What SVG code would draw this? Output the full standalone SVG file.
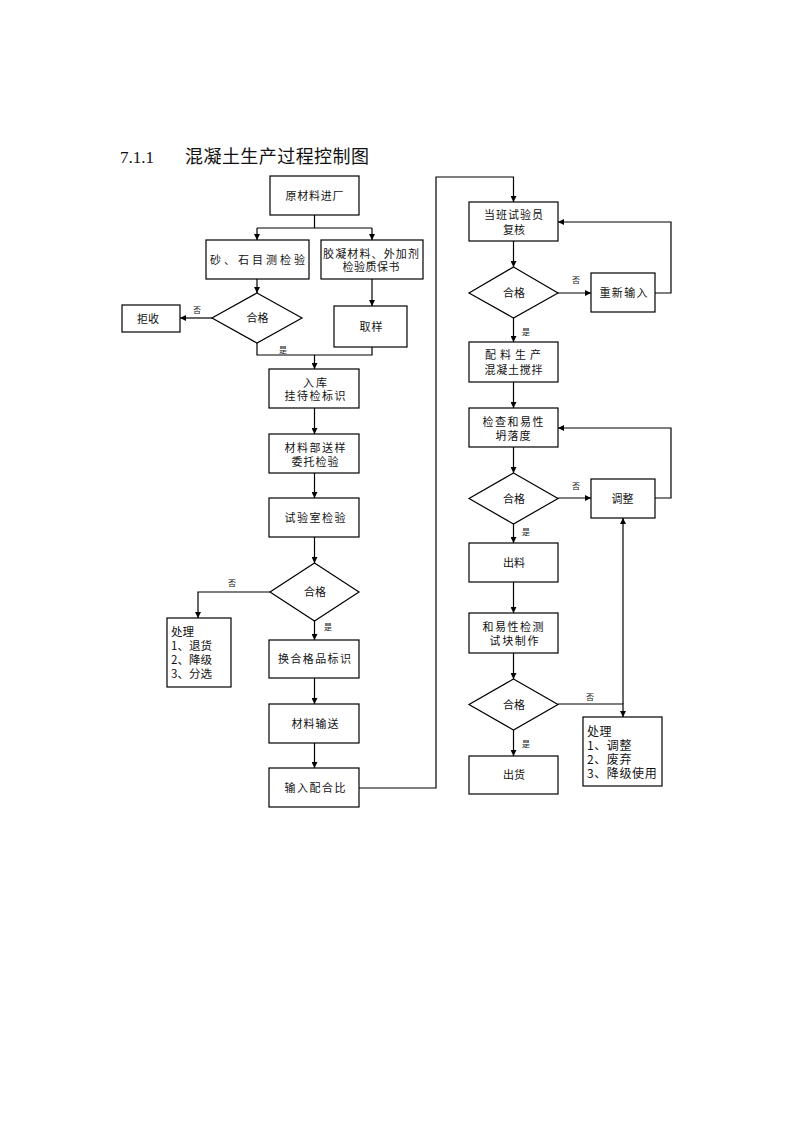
<svg xmlns="http://www.w3.org/2000/svg" width="793" height="1122" viewBox="0 0 793 1122">
<style>
.b{fill:#fff;stroke:#000;stroke-width:1.2}
.t{font-family:"Noto Sans CJK SC","Liberation Sans",sans-serif;font-size:11px;fill:#111;text-anchor:middle}
.l{font-family:"Noto Sans CJK SC","Liberation Sans",sans-serif;font-size:11.5px;fill:#111}
.s{font-family:"Noto Sans CJK SC","Liberation Sans",sans-serif;font-size:8px;fill:#111;text-anchor:middle}
.c{fill:none;stroke:#000;stroke-width:1.2}
</style>
<defs>
<marker id="a" markerUnits="userSpaceOnUse" markerWidth="6" markerHeight="6" refX="6" refY="3" orient="auto">
<path d="M0,0 L6,3 L0,6 z" fill="#000"/>
</marker>
</defs>
<rect width="793" height="1122" fill="#fff"/>
<g id="title">
<text x="120" y="163" font-family="Liberation Serif,serif" font-size="17" fill="#111">7.1.1</text>
<text x="185" y="163" font-family="Noto Sans CJK SC,sans-serif" font-size="18" fill="#111" textLength="184" lengthAdjust="spacing">混凝土生产过程控制图</text>
</g>
<g id="connectors">
<path class="c" d="M314.5,215 V228 M257,228 H372"/>
<path class="c" d="M257,228 V240" marker-end="url(#a)"/>
<path class="c" d="M372,228 V240" marker-end="url(#a)"/>
<path class="c" d="M257,279 V293" marker-end="url(#a)"/>
<path class="c" d="M212,318 H180" marker-end="url(#a)"/>
<path class="c" d="M372,279 V306" marker-end="url(#a)"/>
<path class="c" d="M257,343 V355 H372 V347"/>
<path class="c" d="M314.5,355 V369" marker-end="url(#a)"/>
<path class="c" d="M314.5,408 V434" marker-end="url(#a)"/>
<path class="c" d="M314.5,473 V498" marker-end="url(#a)"/>
<path class="c" d="M314.5,537 V563" marker-end="url(#a)"/>
<path class="c" d="M270,592 H198 V618" marker-end="url(#a)"/>
<path class="c" d="M314.5,621 V640" marker-end="url(#a)"/>
<path class="c" d="M314.5,678 V704" marker-end="url(#a)"/>
<path class="c" d="M314.5,743 V768" marker-end="url(#a)"/>
<path class="c" d="M359,788 H436 V177 H513.5 V202" marker-end="url(#a)"/>
<path class="c" d="M513.5,241 V267" marker-end="url(#a)"/>
<path class="c" d="M558,293 H591" marker-end="url(#a)"/>
<path class="c" d="M655,293 H671 V222 H558" marker-end="url(#a)"/>
<path class="c" d="M513.5,318 V342" marker-end="url(#a)"/>
<path class="c" d="M513.5,382 V408" marker-end="url(#a)"/>
<path class="c" d="M513.5,447 V473" marker-end="url(#a)"/>
<path class="c" d="M558,498 H591" marker-end="url(#a)"/>
<path class="c" d="M655,498 H671 V428 H558" marker-end="url(#a)"/>
<path class="c" d="M513.5,524 V543" marker-end="url(#a)"/>
<path class="c" d="M513.5,582 V613" marker-end="url(#a)"/>
<path class="c" d="M513.5,653 V679" marker-end="url(#a)"/>
<path class="c" d="M558,704 H623 V717" marker-end="url(#a)"/>
<path class="c" d="M623,704 V518" marker-end="url(#a)"/>
<path class="c" d="M513.5,730 V756" marker-end="url(#a)"/>
<text class="s" x="197" y="313">否</text>
<text class="s" x="283" y="353">是</text>
<text class="s" x="232" y="586">否</text>
<text class="s" x="328" y="630">是</text>
<text class="s" x="576" y="283">否</text>
<text class="s" x="526" y="335">是</text>
<text class="s" x="576" y="489">否</text>
<text class="s" x="526" y="535">是</text>
<text class="s" x="590" y="700">否</text>
<text class="s" x="526" y="747">是</text>
</g>
<g id="n1"><rect class="b" x="270" y="176" width="89" height="39"/><text class="t" x="314.5" y="199.5" textLength="58">原材料进厂</text></g>
<g id="n2"><rect class="b" x="206" y="240" width="103" height="39"/><text class="t" x="257.5" y="263.5" textLength="95">砂、石目测检验</text></g>
<g id="n3"><rect class="b" x="321" y="240" width="102" height="39"/><text class="t" x="371" y="257.5" textLength="96">胶凝材料、外加剂</text><text class="t" x="371" y="271" textLength="57">检验质保书</text></g>
<g id="n4"><polygon class="b" points="257,293 302,318 257,343 212,318"/><text class="t" x="257.5" y="322" textLength="22">合格</text></g>
<g id="n5"><rect class="b" x="122" y="305" width="58" height="27"/><text class="t" x="148" y="322.5" textLength="22">拒收</text></g>
<g id="n6"><rect class="b" x="334" y="306" width="73" height="41"/><text class="t" x="371" y="330.5" textLength="23">取样</text></g>
<g id="n7"><rect class="b" x="269" y="369" width="90" height="39"/><text class="t" x="315" y="387" textLength="24">入库</text><text class="t" x="315" y="400" textLength="61">挂待检标识</text></g>
<g id="n8"><rect class="b" x="269" y="434" width="90" height="39"/><text class="t" x="315" y="452" textLength="61">材料部送样</text><text class="t" x="315" y="465.5" textLength="47">委托检验</text></g>
<g id="n9"><rect class="b" x="269" y="498" width="90" height="39"/><text class="t" x="315" y="521.5" textLength="61">试验室检验</text></g>
<g id="n10"><polygon class="b" points="314.5,563 359,592 314.5,621 270,592"/><text class="t" x="315" y="596" textLength="22">合格</text></g>
<g id="n11"><rect class="b" x="167" y="618" width="64" height="69"/><text class="l" x="171" y="636">处理</text><text class="l" x="171" y="650">1、退货</text><text class="l" x="171" y="664">2、降级</text><text class="l" x="171" y="678">3、分选</text></g>
<g id="n12"><rect class="b" x="269" y="640" width="90" height="38"/><text class="t" x="314.5" y="663" textLength="73">换合格品标识</text></g>
<g id="n13"><rect class="b" x="269" y="704" width="90" height="39"/><text class="t" x="315" y="727.5" textLength="47">材料输送</text></g>
<g id="n14"><rect class="b" x="269" y="768" width="90" height="39"/><text class="t" x="315" y="791.5" textLength="61">输入配合比</text></g>
<g id="n15"><rect class="b" x="469" y="202" width="89" height="39"/><text class="t" x="513.5" y="219" textLength="59">当班试验员</text><text class="t" x="514" y="233.5" textLength="22">复核</text></g>
<g id="n16"><polygon class="b" points="513.5,267 558,293 513.5,318 469,293"/><text class="t" x="514" y="297" textLength="22">合格</text></g>
<g id="n17"><rect class="b" x="591" y="273" width="64" height="39"/><text class="t" x="623.5" y="296.5" textLength="48">重新输入</text></g>
<g id="n18"><rect class="b" x="469" y="342" width="89" height="40"/><text class="t" x="513" y="359" textLength="56">配料生产</text><text class="t" x="513.5" y="373.5" textLength="58">混凝土搅拌</text></g>
<g id="n19"><rect class="b" x="469" y="408" width="89" height="39"/><text class="t" x="513" y="425.5" textLength="61">检查和易性</text><text class="t" x="513" y="439.5" textLength="35">坍落度</text></g>
<g id="n20"><polygon class="b" points="513.5,473 558,498.5 513.5,524 469,498.5"/><text class="t" x="514" y="502.5" textLength="22">合格</text></g>
<g id="n21"><rect class="b" x="591" y="479" width="64" height="39"/><text class="t" x="622.5" y="502.5" textLength="22">调整</text></g>
<g id="n22"><rect class="b" x="469" y="543" width="89" height="39"/><text class="t" x="514" y="566.5" textLength="22">出料</text></g>
<g id="n23"><rect class="b" x="469" y="613" width="89" height="40"/><text class="t" x="513" y="630.5" textLength="61">和易性检测</text><text class="t" x="514" y="645" textLength="49">试块制作</text></g>
<g id="n24"><polygon class="b" points="513.5,679 558,704.5 513.5,730 469,704.5"/><text class="t" x="514" y="708.5" textLength="22">合格</text></g>
<g id="n25"><rect class="b" x="583" y="717" width="79" height="69"/><text class="l" x="587" y="736" style="font-size:12px;letter-spacing:0.6px">处理</text><text class="l" x="587" y="750" style="font-size:12px;letter-spacing:0.6px">1、调整</text><text class="l" x="587" y="764" style="font-size:12px;letter-spacing:0.6px">2、废弃</text><text class="l" x="587" y="778" style="font-size:12px;letter-spacing:0.6px">3、降级使用</text></g>
<g id="n26"><rect class="b" x="469" y="756" width="89" height="38"/><text class="t" x="514" y="779" textLength="22">出货</text></g>
</svg>
